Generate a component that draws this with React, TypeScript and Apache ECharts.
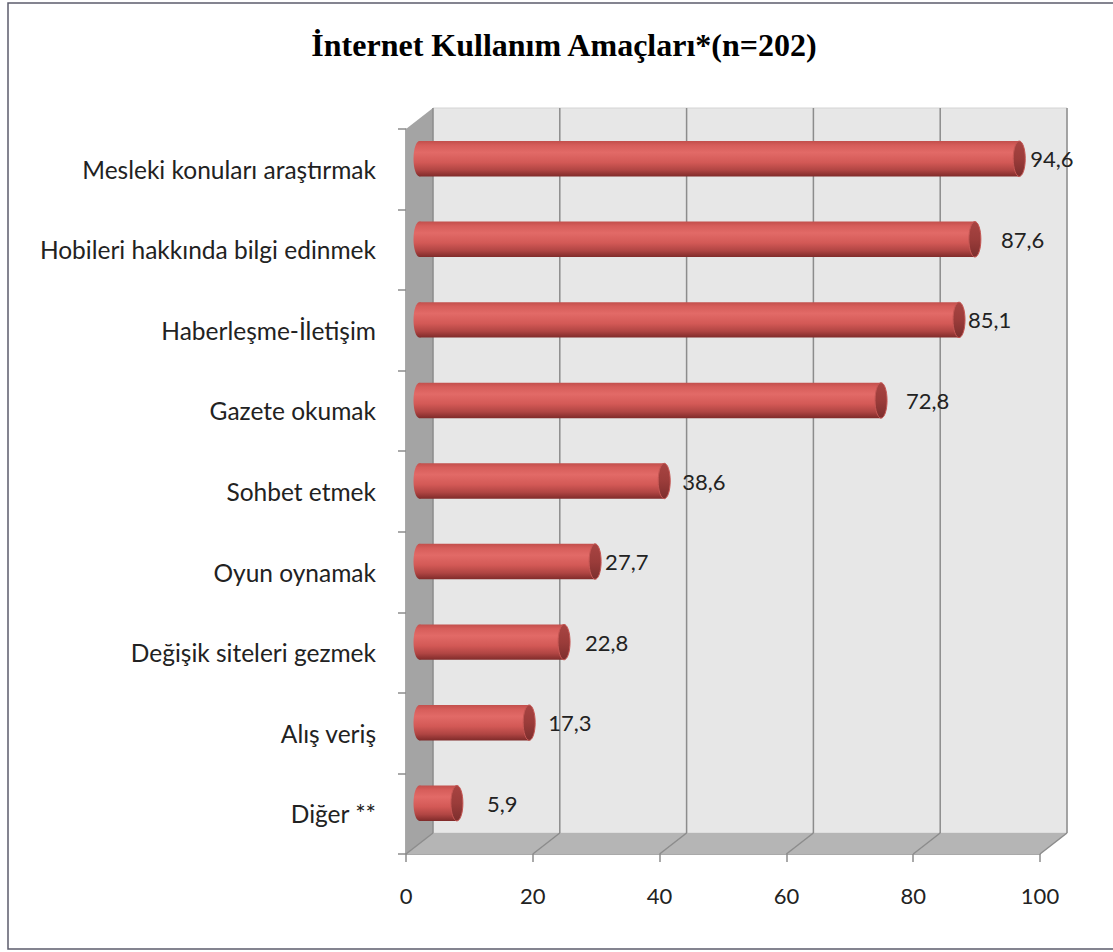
import React, { useEffect, useRef } from "react";
import * as echarts from "echarts";

// Survey results: purposes of internet use (percent of respondents, n=202)
const categories = [
  "Mesleki konuları araştırmak",
  "Hobileri hakkında bilgi edinmek",
  "Haberleşme-İletişim",
  "Gazete okumak",
  "Sohbet etmek",
  "Oyun oynamak",
  "Değişik siteleri gezmek",
  "Alış veriş",
  "Diğer **",
];
const values = [94.6, 87.6, 85.1, 72.8, 38.6, 27.7, 22.8, 17.3, 5.9];
const axisMin = 0;
const axisMax = 100;
const axisStep = 20;
const titleText = "İnternet Kullanım Amaçları*(n=202)";

// extra horizontal gap between each cylinder's end and its value label
const labelGap = [5, 20, 3, 19, 12, 4, 15, 13, 24];

// 3D depth offset of the back wall relative to the front plane
const DX = 27;
const DY = -21;

const LABEL_FONT = "Lato, 'Open Sans', sans-serif";

const fmt = (v: number) => String(v).replace(".", ",");

export default function App() {
  const ref = useRef<HTMLDivElement>(null);

  useEffect(() => {
    if (!ref.current) return;
    const chart = echarts.init(ref.current, undefined, { renderer: "svg" });

    const ticks: number[] = [];
    for (let v = axisMin; v <= axisMax; v += axisStep) ticks.push(v);

    const option: any = {
      animation: false,
      backgroundColor: "#ffffff",
      graphic: [
        {
          type: "rect",
          shape: { x: 8, y: 3, width: 1112, height: 946 },
          style: { fill: "none", stroke: "#5c5c6c", lineWidth: 1.5 },
          silent: true,
        },
        {
          type: "text",
          x: 564,
          y: 45,
          style: {
            text: titleText,
            font: "bold 32px 'Liberation Serif', 'Times New Roman', serif",
            fill: "#000",
            align: "center",
            verticalAlign: "middle",
          },
        },
      ],
      grid: { left: 406, top: 129, width: 634, height: 725, containLabel: false },
      xAxis: {
        type: "value",
        min: axisMin,
        max: axisMax,
        interval: axisStep,
        axisLine: { show: true, lineStyle: { color: "#8c8c8c", width: 1.5 } },
        axisTick: { show: true, length: 8, lineStyle: { color: "#8c8c8c", width: 1.5 } },
        splitLine: { show: false },
        axisLabel: {
          margin: 30,
          fontFamily: LABEL_FONT,
          fontSize: 22,
          color: "#222",
        },
      },
      yAxis: {
        type: "category",
        data: categories,
        inverse: true,
        axisLine: { show: true, lineStyle: { color: "#8c8c8c", width: 1.5 } },
        axisTick: { show: true, length: 8, lineStyle: { color: "#8c8c8c", width: 1.5 } },
        splitLine: { show: false },
        axisLabel: {
          margin: 30,
          fontFamily: LABEL_FONT,
          fontSize: 24.5,
          color: "#222",
        },
      },
      series: [
        // walls and floor of the 3D frame
        {
          type: "custom",
          coordinateSystem: "cartesian2d",
          z: 1,
          silent: true,
          data: [[axisMin, 0]],
          renderItem: (params: any) => {
            const cs = params.coordSys;
            const x0 = cs.x;
            const y0 = cs.y;
            const x1 = cs.x + cs.width;
            const y1 = cs.y + cs.height;
            return {
              type: "group",
              children: [
                {
                  type: "polygon",
                  shape: {
                    points: [
                      [x0 + DX, y0 + DY],
                      [x1 + DX, y0 + DY],
                      [x1 + DX, y1 + DY],
                      [x0 + DX, y1 + DY],
                    ],
                  },
                  style: { fill: "#e7e7e7", stroke: "#d4d4d4", lineWidth: 1 },
                },
                {
                  type: "polygon",
                  shape: {
                    points: [
                      [x0, y0],
                      [x0 + DX, y0 + DY],
                      [x0 + DX, y1 + DY],
                      [x0, y1],
                    ],
                  },
                  style: { fill: "#a4a4a4" },
                },
                {
                  type: "polygon",
                  shape: {
                    points: [
                      [x0, y1],
                      [x1, y1],
                      [x1 + DX, y1 + DY],
                      [x0 + DX, y1 + DY],
                    ],
                  },
                  style: { fill: "#b5b5b5" },
                },
              ],
            };
          },
        },
        // gridlines on the back wall and the floor
        {
          type: "custom",
          coordinateSystem: "cartesian2d",
          z: 2,
          silent: true,
          data: ticks.map((v) => [v, 0]),
          renderItem: (params: any, api: any) => {
            const cs = params.coordSys;
            const y0 = cs.y;
            const y1 = cs.y + cs.height;
            const x = api.coord([api.value(0), 0])[0];
            const ls = { stroke: "#8c8c8c", lineWidth: 1.5 };
            return {
              type: "group",
              children: [
                {
                  type: "line",
                  shape: { x1: x + DX, y1: y0 + DY, x2: x + DX, y2: y1 + DY },
                  style: ls,
                },
                {
                  type: "line",
                  shape: { x1: x, y1: y1, x2: x + DX, y2: y1 + DY },
                  style: ls,
                },
              ],
            };
          },
        },
        // cylinders with value labels
        {
          type: "custom",
          coordinateSystem: "cartesian2d",
          z: 3,
          data: values.map((v, i) => [v, i]),
          renderItem: (params: any, api: any) => {
            const v = api.value(0);
            const idx = api.value(1);
            const start = api.coord([axisMin, idx]);
            const end = api.coord([v, idx]);
            const band = api.size([0, 1])[1];
            const h = band * 0.44;
            const ox = DX / 2;
            const oy = DY / 2;
            const xs = start[0] + ox;
            const xe = end[0] + ox;
            const cy = start[1] + oy;
            const rx = 6;
            const body = new echarts.graphic.LinearGradient(0, 0, 0, 1, [
              { offset: 0, color: "#c24f4c" },
              { offset: 0.12, color: "#d65d5a" },
              { offset: 0.32, color: "#e26a67" },
              { offset: 0.6, color: "#d35956" },
              { offset: 0.82, color: "#b04543" },
              { offset: 1, color: "#7f2b2a" },
            ]);
            const cap = new echarts.graphic.LinearGradient(0, 0, 0, 1, [
              { offset: 0, color: "#a84442" },
              { offset: 0.5, color: "#9b3c3a" },
              { offset: 1, color: "#7c2e2d" },
            ]);
            const i = params.dataIndex;
            return {
              type: "group",
              children: [
                {
                  type: "ellipse",
                  shape: { cx: xs, cy, rx, ry: h / 2 },
                  style: { fill: body },
                },
                {
                  type: "rect",
                  shape: { x: xs, y: cy - h / 2, width: Math.max(0, xe - xs), height: h },
                  style: { fill: body },
                },
                {
                  type: "ellipse",
                  shape: { cx: xe, cy, rx, ry: h / 2 },
                  style: { fill: cap, stroke: "#c65754", lineWidth: 1 },
                },
                {
                  type: "text",
                  x: xe + rx + labelGap[i],
                  y: cy,
                  style: {
                    text: fmt(v),
                    font: `22px ${LABEL_FONT}`,
                    fill: "#222",
                    align: "left",
                    verticalAlign: "middle",
                  },
                },
              ],
            };
          },
        },
      ],
    };

    chart.setOption(option);
    return () => chart.dispose();
  }, []);

  return (
    <div
      ref={ref}
      style={{ position: "absolute", left: 0, top: 0, width: 1113, height: 952 }}
    />
  );
}
